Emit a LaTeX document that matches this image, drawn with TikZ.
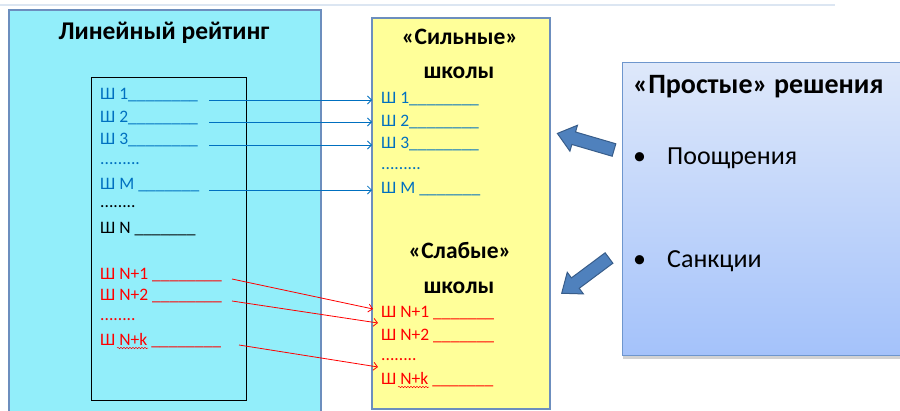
\documentclass[tikz,border=0pt]{standalone}
\usepackage{fontspec}
\setmainfont{Carlito}
\usetikzlibrary{arrows.meta,shadows,decorations.pathmorphing}
\definecolor{cyanfill}{RGB}{146,238,250}
\definecolor{boxedge}{RGB}{108,142,190}
\definecolor{yelfill}{RGB}{255,255,153}
\definecolor{txtblue}{RGB}{0,112,192}
\definecolor{txtred}{RGB}{255,0,0}
\definecolor{btop}{RGB}{222,232,250}
\definecolor{bbot}{RGB}{164,194,250}
\definecolor{bedge}{RGB}{110,150,205}
\definecolor{arrfill}{RGB}{79,129,189}
\definecolor{arredge}{RGB}{56,93,138}
\definecolor{topline}{RGB}{220,230,242}
\tikzset{
  panel/.style={draw=boxedge, line width=1.5pt, anchor=north west, inner sep=0pt},
  listrow/.style={anchor=base west, inner sep=0pt, font=\fontsize{17.5}{17.5}\selectfont},
  heading/.style={anchor=base, inner sep=0pt, font=\bfseries\fontsize{23.5}{24}\selectfont},
  bigtext/.style={anchor=base west, inner sep=0pt, font=\fontsize{26}{26}\selectfont},
  bluelink/.style={txtblue, line width=0.8pt, -{Straight Barb[length=4pt,width=8pt]}},
  redlink/.style={txtred, line width=0.8pt, -{Straight Barb[length=4pt,width=8pt]}},
  spell/.style={txtred, line width=0.5pt, decorate, decoration={snake, amplitude=0.7pt, segment length=3pt}},
  blockarrow/.pic={\draw[arredge, fill=arrfill, line width=1pt]
     (0,-6.5) -- (42,-6.5) -- (42,-13.5) -- (59,0) -- (42,13.5) -- (42,6.5) -- (0,6.5) -- cycle;}
}
\begin{document}
\begin{tikzpicture}[x=1pt,y=-1pt]
\useasboundingbox (0,0) rectangle (900,410);
\clip (0,0) rectangle (900,410);
\fill[white] (0,0) rectangle (900,410);
\draw[topline, line width=2pt] (0,5) -- (835,5);

% left panel
\node[panel, fill=cyanfill, minimum width=312pt, minimum height=410pt] (rating) at (8,9) {};
\node[anchor=base, inner sep=0pt, font=\bfseries\fontsize{25.5}{25.5}\selectfont] (ratingtitle) at (164,39) {Линейный рейтинг};
\node[draw=black, line width=1pt, anchor=north west, minimum width=155pt, minimum height=323pt, inner sep=0pt] (ratinglist) at (91,77) {};

\node[listrow, txtblue] (l1) at (100,99.5) {Ш 1\_\_\_\_\_\_\_\_};
\node[listrow, txtblue] (l2) at (100,122) {Ш 2\_\_\_\_\_\_\_\_};
\node[listrow, txtblue] (l3) at (100,144.5) {Ш 3\_\_\_\_\_\_\_\_};
\node[listrow, txtblue] (ld1) at (100,164) {.........};
\node[listrow, txtblue] (lm) at (100,189) {Ш M \_\_\_\_\_\_\_};
\node[listrow, black] (ld2) at (100,207) {........};
\node[listrow, black] (ln) at (100,233.5) {Ш N \_\_\_\_\_\_\_};
\node[listrow, txtred] (lr1) at (100,279) {Ш N+1 \_\_\_\_\_\_\_\_};
\node[listrow, txtred] (lr2) at (100,300.5) {Ш N+2 \_\_\_\_\_\_\_\_};
\node[listrow, txtred] (ld3) at (100,320.5) {........};
\node[listrow, txtred] (lrk) at (100,345) {Ш N+k \_\_\_\_\_\_\_\_};

% middle panel
\node[panel, fill=yelfill, minimum width=178pt, minimum height=391pt] (schools) at (371,17) {};
\node[heading] (stronga) at (460,44) {«Сильные»};
\node[heading] (strongb) at (459,78) {школы};
\node[heading] (weaka) at (460,258) {«Слабые»};
\node[heading] (weakb) at (459,293) {школы};

\node[listrow, txtblue] (s1) at (381,103) {Ш 1\_\_\_\_\_\_\_\_};
\node[listrow, txtblue] (s2) at (381,126) {Ш 2\_\_\_\_\_\_\_\_};
\node[listrow, txtblue] (s3) at (381,148.5) {Ш 3\_\_\_\_\_\_\_\_};
\node[listrow, txtblue] (sd1) at (381,169) {.........};
\node[listrow, txtblue] (sm) at (381,193.5) {Ш M \_\_\_\_\_\_\_};
\node[listrow, txtred] (w1) at (381,317) {Ш N+1 \_\_\_\_\_\_\_};
\node[listrow, txtred] (w2) at (381,340) {Ш N+2 \_\_\_\_\_\_\_};
\node[listrow, txtred] (wd) at (381,360) {........};
\node[listrow, txtred] (wk) at (381,384.5) {Ш N+k \_\_\_\_\_\_\_};

% spell-check marks
\draw[spell] (117,348) -- (148,348);
\draw[spell] (398,387) -- (429,387);

% connectors
\coordinate (a1) at (209,100);  \coordinate (b1) at (372,100);
\coordinate (a2) at (209,122);  \coordinate (b2) at (372,122);
\coordinate (a3) at (209,145);  \coordinate (b3) at (372,145);
\coordinate (am) at (209,190);  \coordinate (bm) at (372,190);
\coordinate (c1) at (232,279);  \coordinate (d1) at (373,309);
\coordinate (c2) at (232,301);  \coordinate (d2) at (378,323);
\coordinate (ck) at (239,345);  \coordinate (dk) at (378,367);
\draw[bluelink] (a1) -- (b1);
\draw[bluelink] (a2) -- (b2);
\draw[bluelink] (a3) -- (b3);
\draw[bluelink] (am) -- (bm);
\draw[redlink] (c1) -- (d1);
\draw[redlink] (c2) -- (d2);
\draw[redlink] (ck) -- (dk);

% right panel
\node[draw=bedge, line width=1.2pt, top color=btop, bottom color=bbot,
      drop shadow={shadow xshift=0pt, shadow yshift=-3pt, opacity=0.35},
      anchor=north west, inner sep=0pt, minimum width=290pt, minimum height=293pt] (simple) at (622,62) {};
\node[anchor=base west, inner sep=0pt, font=\bfseries\fontsize{28}{28}\selectfont] (simpletitle) at (633,93) {«Простые» решения};
\node[bigtext] (bullet1) at (633,164) {•};
\node[bigtext] (reward) at (667,164) {Поощрения};
\node[bigtext] (bullet2) at (633,267) {•};
\node[bigtext] (sanction) at (667,267) {Санкции};

% block arrows
\pic[rotate=163.7] (uparrow) at (614,150) {blockarrow};
\pic[rotate=216.7] (downarrow) at (609,258) {blockarrow};
\end{tikzpicture}
\end{document}
